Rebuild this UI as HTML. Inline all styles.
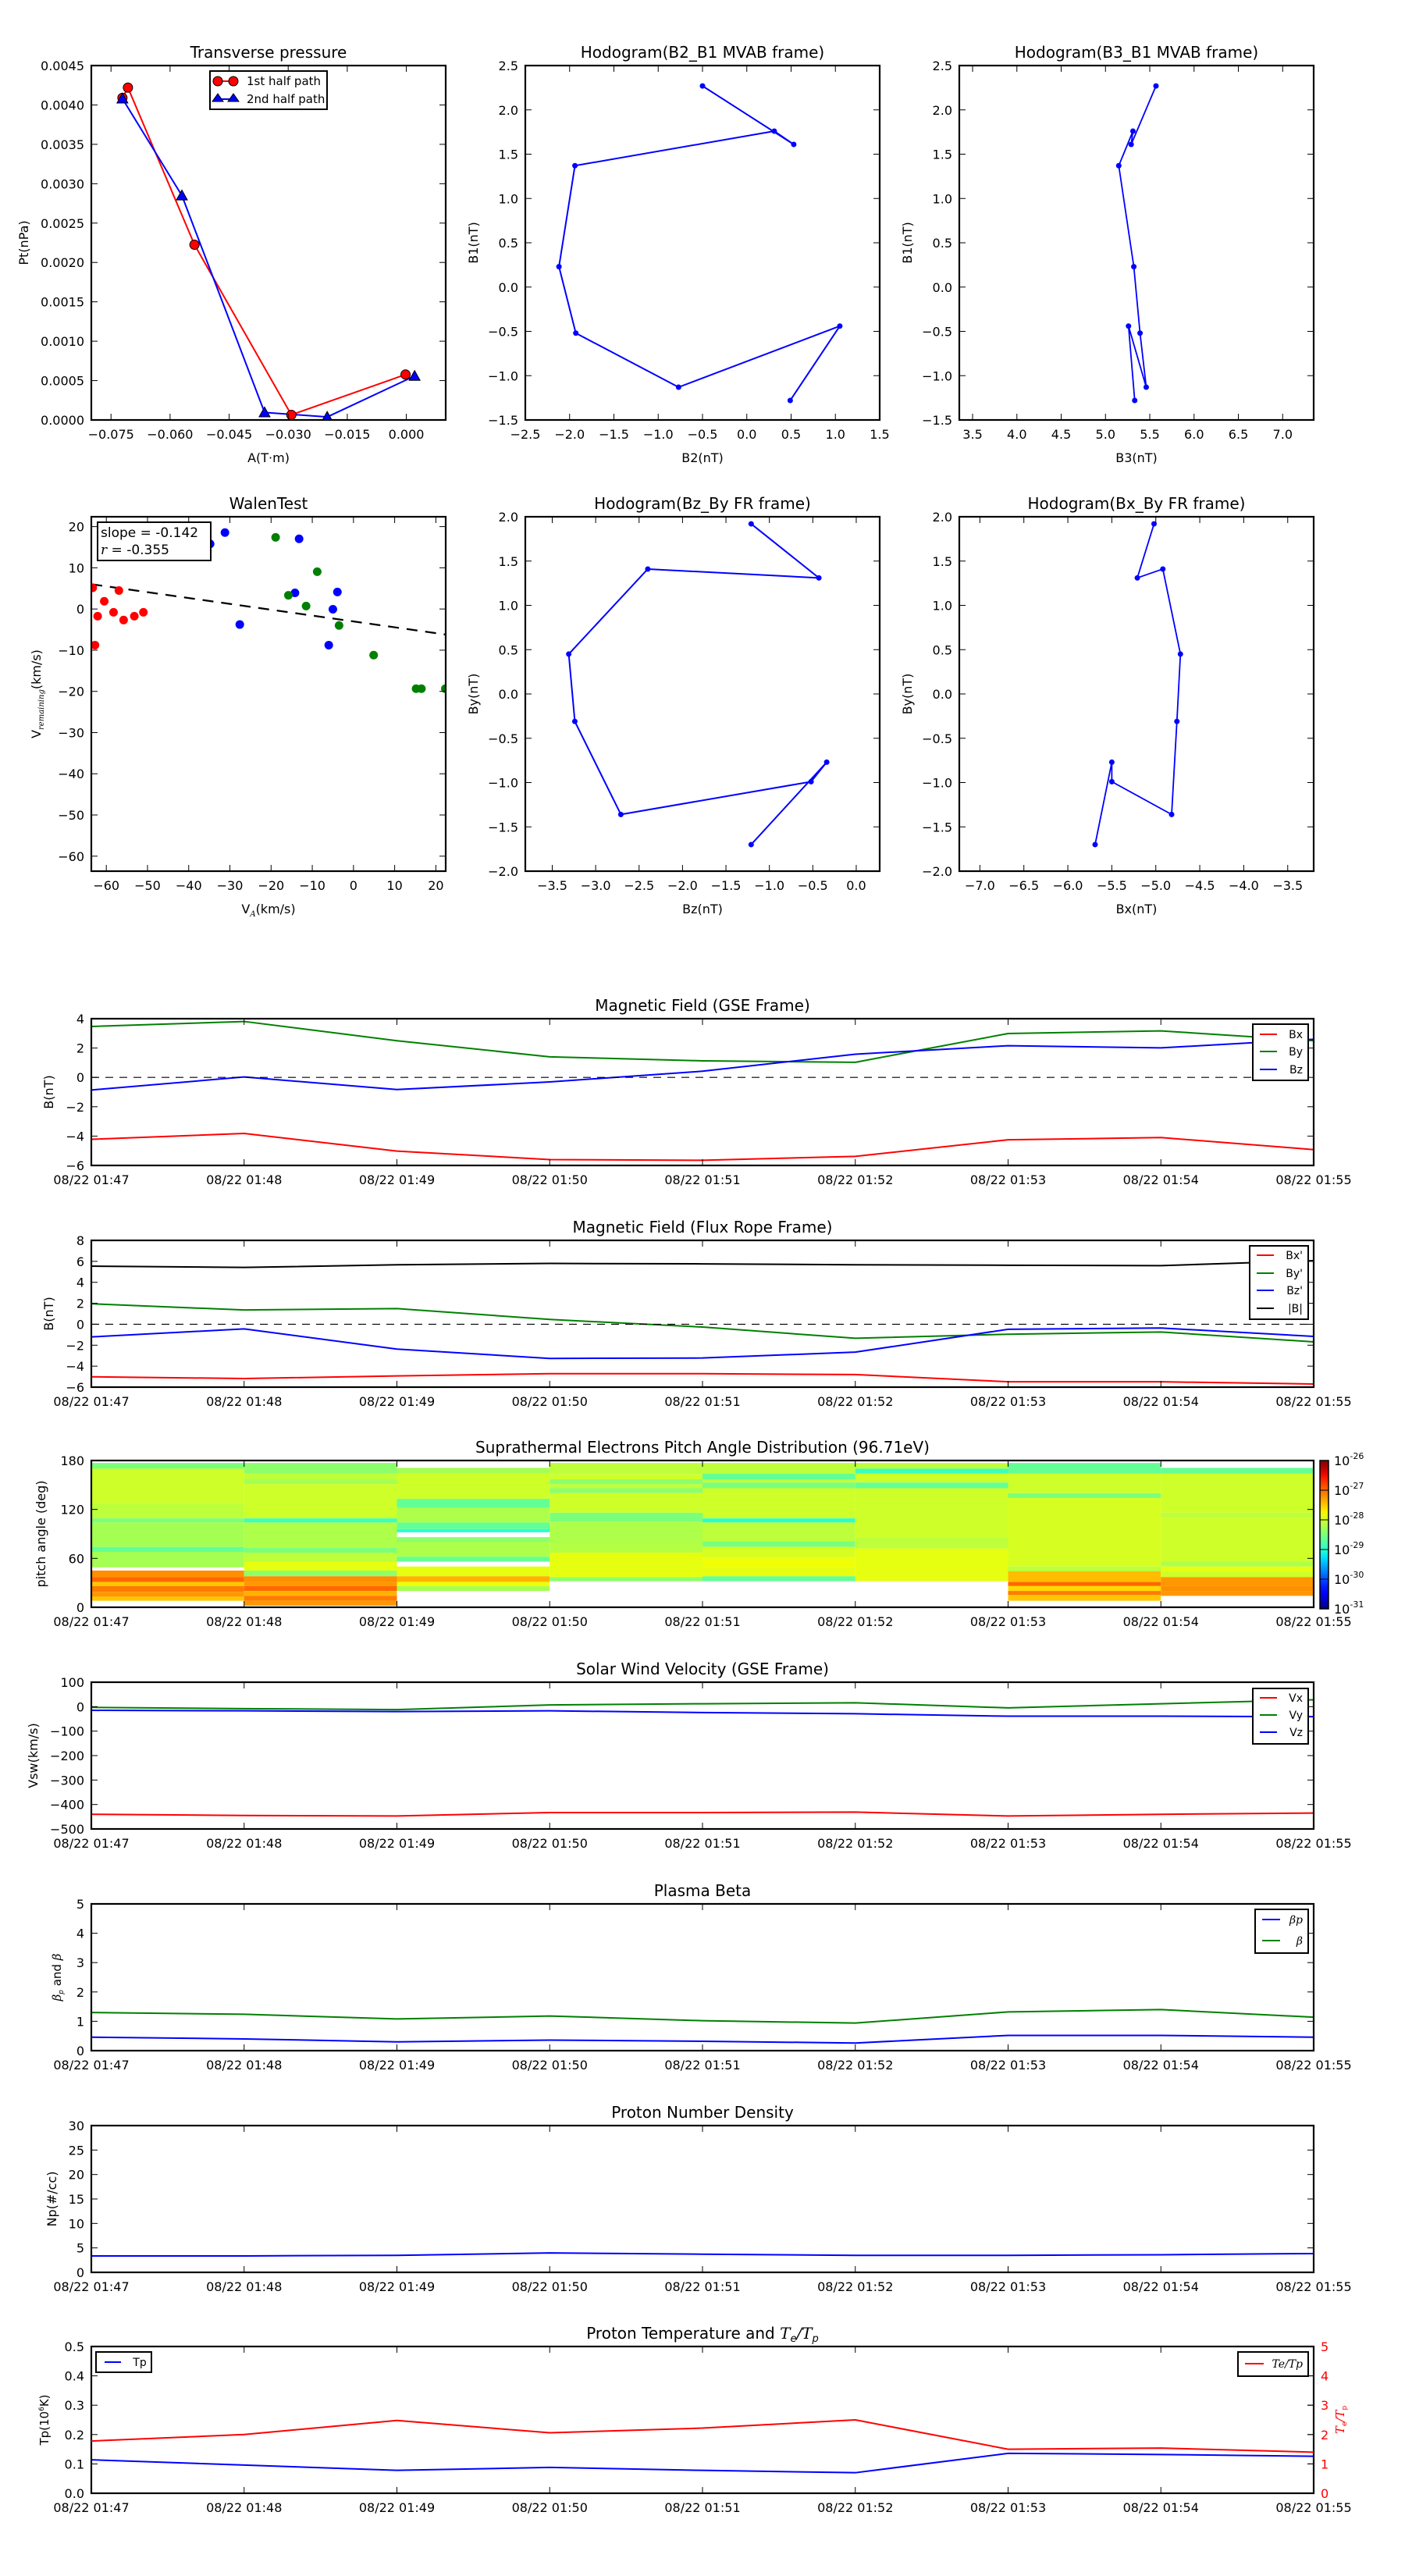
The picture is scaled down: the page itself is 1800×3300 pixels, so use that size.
<!DOCTYPE html>
<html><head><meta charset="utf-8"><title>Flux rope analysis</title>
<style>
html,body{margin:0;padding:0;background:#fff;}
svg{display:block;font-family:"DejaVu Sans","Liberation Sans",sans-serif;}
</style></head>
<body>
<svg id="chart" xmlns="http://www.w3.org/2000/svg" width="1800" height="3300" viewBox="0 0 1800 3300"></svg>
<script>
// ---------- data ----------
const ptRedA = [-0.0721, -0.0707, -0.0538, -0.0292, -0.0002];
const ptRedP = [0.00409, 0.00422, 0.002225, 0.000065, 0.000577];
const ptBlueA = [-0.0721, -0.0570, -0.0360, -0.0201, 0.0021];
const ptBlueP = [0.00408, 0.00285, 0.000095, 0.000038, 0.000558];

const hB2 = [-0.50, 0.53, 0.31, -1.94, -2.12, -1.93, -0.77, 1.05, 0.49];
const hB1 = [2.27, 1.61, 1.76, 1.37, 0.23, -0.52, -1.13, -0.44, -1.28];
const hB3 = [5.57, 5.29, 5.31, 5.15, 5.32, 5.39, 5.46, 5.26, 5.33];
const frBz = [-1.21, -0.43, -2.40, -3.31, -3.24, -2.71, -0.52, -0.34, -1.21];
const frBy = [1.92, 1.31, 1.41, 0.45, -0.31, -1.36, -0.99, -0.77, -1.70];
const frBx = [-5.02, -5.21, -4.92, -4.72, -4.76, -4.82, -5.50, -5.50, -5.69];

const walenRedX = [-63.3, -56.95, -60.5, -62.1, -58.25, -55.8, -53.2, -51.0, -62.75];
const walenRedY = [5.14, 4.49, 1.88, -1.74, -0.80, -2.68, -1.74, -0.80, -8.77];
const walenBlueX = [-31.2, -34.8, -27.6, -13.2, -14.2, -3.9, -5.0, -6.0];
const walenBlueY = [18.55, 15.8, -3.77, 17.03, 3.91, 4.13, -0.07, -8.77];
const walenGreenX = [-18.9, -8.8, -15.8, -11.5, -3.5, 4.9, 15.2, 16.5, 22.3];
const walenGreenY = [17.39, 9.06, 3.33, 0.72, -3.99, -11.2, -19.35, -19.35, -19.35];
const walenSlope = -0.142;
const walenIntercept = -3.02;

const timeLabels = ["08/22 01:47","08/22 01:48","08/22 01:49","08/22 01:50","08/22 01:51","08/22 01:52","08/22 01:53","08/22 01:54","08/22 01:55"];
const minutes = [0,1,2,3,4,5,6,7,8];

const gseBx = [-4.22, -3.82, -5.02, -5.60, -5.65, -5.38, -4.25, -4.10, -4.92];
const gseBy = [3.47, 3.81, 2.50, 1.40, 1.13, 1.03, 2.99, 3.17, 2.50];
const gseBz = [-0.86, 0.03, -0.83, -0.31, 0.42, 1.58, 2.16, 2.01, 2.60];

const frpBx = [-5.01, -5.18, -4.93, -4.72, -4.72, -4.80, -5.49, -5.49, -5.70];
const frpBy = [1.95, 1.36, 1.49, 0.46, -0.27, -1.34, -0.95, -0.74, -1.68];
const frpBz = [-1.21, -0.44, -2.37, -3.26, -3.22, -2.66, -0.48, -0.36, -1.16];
const frpBt = [5.54, 5.42, 5.67, 5.80, 5.76, 5.67, 5.63, 5.59, 6.06];

const swVx = [-440, -445, -447, -433, -433, -431, -447, -440, -435];
const swVy = [-3, -8, -12, 7, 12, 16, -5, 12, 28];
const swVz = [-15, -17, -20, -17, -24, -29, -39, -39, -41];

const betaP = [0.46, 0.40, 0.30, 0.36, 0.32, 0.26, 0.52, 0.52, 0.46];
const betaAll = [1.30, 1.24, 1.08, 1.18, 1.02, 0.94, 1.32, 1.40, 1.14];

const densNp = [3.36, 3.36, 3.48, 3.96, 3.72, 3.48, 3.48, 3.60, 3.84];

const tempTp = [0.114, 0.096, 0.078, 0.088, 0.078, 0.070, 0.136, 0.132, 0.126];
const tempRatio = [1.78, 2.00, 2.48, 2.06, 2.22, 2.50, 1.50, 1.54, 1.40];

// pitch-angle bands per minute column: [lowDeg, highDeg, log10 flux]
const pad0 = [[170,177,-28.5],[128,170,-28.0],[109,128,-28.1],[104,109,-28.5],[74,104,-28.25],[68,74,-28.65],[49,68,-28.25],[37,45,-27.2],[31,37,-27.0],[26,31,-27.5],[19,26,-27.1],[13,19,-27.25],[8,13,-27.5]];
const pad1 = [[164,177,-28.4],[157,164,-28.1],[151,157,-28.25],[109,151,-28.0],[104,109,-28.9],[73,104,-28.2],[67,73,-28.5],[56,67,-28.1],[45,56,-27.85],[38,45,-28.4],[31,38,-27.2],[26,31,-27.25],[20,26,-27.0],[14,20,-27.4],[8,14,-27.1],[2,8,-27.25]];
const pad2 = [[164,171,-28.25],[133,164,-28.0],[122,133,-28.65],[104,122,-28.2],[96,104,-28.65],[92,96,-29.0],[80,86,-28.4],[62,80,-28.2],[56,62,-28.65],[38,50,-27.85],[31,38,-27.4],[26,31,-27.8],[20,26,-28.25]];
const pad3 = [[163,177,-28.1],[157,163,-28.0],[151,157,-28.4],[146,151,-28.1],[140,146,-28.4],[116,140,-28.0],[105,116,-28.5],[79,105,-28.2],[67,79,-28.15],[37,67,-27.85],[32,37,-28.4]];
const pad4 = [[164,177,-28.1],[157,164,-28.65],[153,157,-28.1],[146,153,-28.5],[109,146,-28.0],[104,109,-29.0],[81,104,-28.1],[74,81,-28.5],[61,74,-27.95],[48,61,-27.8],[38,48,-27.85],[32,38,-28.65]];
const pad5 = [[170,177,-28.1],[164,170,-28.9],[153,164,-28.0],[146,153,-28.65],[86,146,-28.0],[72,86,-28.1],[32,72,-27.85]];
const pad6 = [[164,177,-28.65],[140,164,-28.0],[134,140,-28.5],[50,134,-27.95],[44,50,-28.1],[31,44,-27.45],[26,31,-27.0],[20,26,-27.6],[15,20,-27.1],[8,15,-27.5]];
const pad7 = [[164,171,-28.65],[116,164,-28.0],[110,116,-28.1],[56,110,-28.0],[50,56,-28.2],[44,50,-27.85],[37,44,-28.0],[26,37,-27.25],[20,26,-27.2],[14,20,-27.25]];
const padColumns = [pad0,pad1,pad2,pad3,pad4,pad5,pad6,pad7];
const cbarExps = [-26,-27,-28,-29,-30,-31];

// ---------- helpers ----------
const NS = "http://www.w3.org/2000/svg";
const svg = document.getElementById('chart');
function mk(tag, attrs, parent){
  const e = document.createElementNS(NS, tag);
  for (const k in attrs) e.setAttribute(k, attrs[k]);
  (parent || svg).appendChild(e);
  return e;
}
let clipN = 0;
function makeAxes(x0, y0, w, h, xr, yr){
  const id = 'clip' + (clipN++);
  const cp = mk('clipPath', {id: id});
  mk('rect', {x: x0, y: y0, width: w, height: h}, cp);
  const g = mk('g', {'clip-path': 'url(#' + id + ')'});
  return {x0, y0, w, h, xr, yr, g,
    sx: v => x0 + (v - xr[0]) / (xr[1] - xr[0]) * w,
    sy: v => y0 + h - (v - yr[0]) / (yr[1] - yr[0]) * h};
}
function fmt(v, d){ const s = v.toFixed(d); return s.replace('-', '\u2212'); }
function text(str, x, y, size, anchor, extra, name){
  const t = mk('text', Object.assign({x: x, y: y, 'font-size': size, 'text-anchor': anchor || 'middle', fill: '#000'}, extra || {}));
  t.textContent = str;
  
  
  return t;
}
function frame(ax, xt, xd, yt, yd, xlabFn){
  const L = 8;
  for (const v of xt){
    const x = ax.sx(v);
    const t1 = mk('line', {x1: x, x2: x, y1: ax.y0 + ax.h, y2: ax.y0 + ax.h - L, stroke: '#000', 'stroke-width': 1});
    
    
    mk('line', {x1: x, x2: x, y1: ax.y0, y2: ax.y0 + L, stroke: '#000', 'stroke-width': 1});
    text(xlabFn ? xlabFn(v) : fmt(v, xd), x, ax.y0 + ax.h + 24, 16, 'middle', null, 'x-tick-label');
  }
  for (const v of yt){
    const y = ax.sy(v);
    const t1 = mk('line', {x1: ax.x0, x2: ax.x0 + L, y1: y, y2: y, stroke: '#000', 'stroke-width': 1});
    
    
    mk('line', {x1: ax.x0 + ax.w, x2: ax.x0 + ax.w - L, y1: y, y2: y, stroke: '#000', 'stroke-width': 1});
    text(fmt(v, yd), ax.x0 - 9, y + 6, 16, 'end', null, 'y-tick-label');
  }
  const r = mk('rect', {x: ax.x0, y: ax.y0, width: ax.w, height: ax.h, fill: 'none', stroke: '#000', 'stroke-width': 2.2});
  
  
}
function range(a, b, s){ const r = []; for (let v = a; v <= b + 1e-9; v += s) r.push(Math.round(v * 1e6) / 1e6); return r; }
function polyline(ax, xs, ys, color, width, name, dash){
  const pts = xs.map((x, i) => ax.sx(x).toFixed(2) + ',' + ax.sy(ys[i]).toFixed(2)).join(' ');
  const attrs = {points: pts, fill: 'none', stroke: color, 'stroke-width': width || 1.8, 'stroke-linejoin': 'round'};
  if (dash) attrs['stroke-dasharray'] = dash;
  const p = mk('polyline', attrs, ax.g);
  
  
  return p;
}
function dots(ax, xs, ys, color, r, name, stroke){
  xs.forEach((x, i) => {
    const c = mk('circle', {cx: ax.sx(x), cy: ax.sy(ys[i]), r: r, fill: color, stroke: stroke || 'none', 'stroke-width': 1}, ax.g);
    
    
  });
}
function tris(ax, xs, ys, color, s, name){
  xs.forEach((x, i) => {
    const cx = ax.sx(x), cy = ax.sy(ys[i]);
    const p = mk('polygon', {points: cx + ',' + (cy - s) + ' ' + (cx - s) + ',' + (cy + s * 0.8) + ' ' + (cx + s) + ',' + (cy + s * 0.8), fill: color, stroke: '#000', 'stroke-width': 1}, ax.g);
    
    
  });
}
function ylabel(str, x, y, size, name, color){
  const t = text(str, x, y, size || 16, 'middle', {transform: 'rotate(-90 ' + x + ' ' + y + ')', fill: color || '#000'}, name);
  return t;
}
function legendBox(x, y, w, h){
  const r = mk('rect', {x: x, y: y, width: w, height: h, fill: '#fff', stroke: '#000', 'stroke-width': 2});
  
  
}
function legendEntry(x1, x2, y, color, label, tx, name, italic){
  const l = mk('line', {x1: x1, x2: x2, y1: y, y2: y, stroke: color, 'stroke-width': 2});
  
  
  text(label, tx, y + 5, 14, 'end', italic ? {'font-family': 'DejaVu Serif, serif', 'font-style': 'italic'} : null, name);
}

// ---------- Transverse pressure ----------
const axPt = makeAxes(117, 84, 454, 454, [-0.08, 0.01], [0, 0.0045]);
frame(axPt, range(-0.075, 0.0, 0.015), 3, range(0, 0.0045, 0.0005), 4);
polyline(axPt, ptRedA, ptRedP, '#f00', 2, 'first-half-path-line');
polyline(axPt, ptBlueA, ptBlueP, '#00f', 2, 'second-half-path-line');
dots(axPt, ptRedA, ptRedP, '#f00', 6, 'first-half-point', '#000');
tris(axPt, ptBlueA, ptBlueP, '#00f', 7, 'second-half-point');
text('Transverse pressure', 344, 74, 20, 'middle', null, 'pt-title');
text('A(T\u00b7m)', 344, 592, 16, 'middle', null, 'x-axis-title');
ylabel('Pt(nPa)', 36, 311, 16, 'y-axis-title');
legendBox(269, 91, 150, 49);
{ const l = mk('line', {x1: 279, x2: 299, y1: 104, y2: 104, stroke: '#f00', 'stroke-width': 2});  
  mk('circle', {cx: 279, cy: 104, r: 6, fill: '#f00', stroke: '#000'}); mk('circle', {cx: 299, cy: 104, r: 6, fill: '#f00', stroke: '#000'});
  const l2 = mk('line', {x1: 279, x2: 299, y1: 127, y2: 127, stroke: '#00f', 'stroke-width': 2});  
  mk('polygon', {points: '279,120 272,130 286,130', fill: '#00f', stroke: '#000'}); mk('polygon', {points: '299,120 292,130 306,130', fill: '#00f', stroke: '#000'});
  text('1st half path', 316, 109, 15, 'start', null, 'legend-first-half');
  text('2nd half path', 316, 132, 15, 'start', null, 'legend-second-half'); }

// ---------- Hodogram B2_B1 ----------
const axH1 = makeAxes(673, 84, 454, 454, [-2.5, 1.5], [-1.5, 2.5]);
frame(axH1, range(-2.5, 1.5, 0.5), 1, range(-1.5, 2.5, 0.5), 1);
polyline(axH1, hB2, hB1, '#00f', 2, 'hodogram-b2-b1-line');
dots(axH1, hB2, hB1, '#00f', 3.5, 'hodogram-b2-b1-point');
text('Hodogram(B2_B1 MVAB frame)', 900, 74, 20, 'middle', null, 'hodogram-b2-b1-title');
text('B2(nT)', 900, 592, 16, 'middle', null, 'x-axis-title');
ylabel('B1(nT)', 612, 311, 16, 'y-axis-title');

// ---------- Hodogram B3_B1 ----------
const axH2 = makeAxes(1229, 84, 454, 454, [3.35, 7.35], [-1.5, 2.5]);
frame(axH2, range(3.5, 7.0, 0.5), 1, range(-1.5, 2.5, 0.5), 1);
polyline(axH2, hB3, hB1, '#00f', 1.8, 'hodogram-b3-b1-line');
dots(axH2, hB3, hB1, '#00f', 3.5, 'hodogram-b3-b1-point');
text('Hodogram(B3_B1 MVAB frame)', 1456, 74, 20, 'middle', null, 'hodogram-b3-b1-title');
text('B3(nT)', 1456, 592, 16, 'middle', null, 'x-axis-title');
ylabel('B1(nT)', 1168, 311, 16, 'y-axis-title');

// ---------- Walen test ----------
const axW = makeAxes(117, 662, 454, 454, [-63.64, 22.39], [-63.64, 22.39]);
frame(axW, range(-60, 20, 10), 0, range(-60, 20, 10), 0);
{ const xa = [-63.64, 22.39]; const ya = xa.map(v => walenSlope * v + walenIntercept);
  polyline(axW, xa, ya, '#000', 2.2, 'walen-fit-line', '14,10'); }
dots(axW, walenRedX, walenRedY, '#f00', 5.5, 'walen-point-red');
dots(axW, walenBlueX, walenBlueY, '#00f', 5.5, 'walen-point-blue');
dots(axW, walenGreenX, walenGreenY, '#008000', 5.5, 'walen-point-green');
legendBox(125, 669, 145, 49);
text('slope = -0.142', 129, 688, 17, 'start', null, 'walen-slope-text');
{ const t = text('', 129, 710, 17, 'start', null, 'walen-r-text');
  t.innerHTML = '<tspan font-family="DejaVu Serif, serif" font-style="italic">r</tspan> = -0.355'; }
text('WalenTest', 344, 652, 20, 'middle', null, 'walen-title');
{ const t = text('', 344, 1170, 16, 'middle', null, 'x-axis-title'); t.innerHTML = 'V<tspan font-size="10" dy="4" font-style="italic" font-family="DejaVu Serif, serif">A</tspan><tspan dy="-4">(km/s)</tspan>'; }
{ const t = ylabel('', 52, 889, 16, 'y-axis-title'); t.innerHTML = 'V<tspan font-size="10" dy="4" font-style="italic" font-family="DejaVu Serif, serif">remaining</tspan><tspan dy="-4">(km/s)</tspan>'; }

// ---------- Hodogram Bz_By ----------
const axH3 = makeAxes(673, 662, 454, 454, [-3.81, 0.27], [-2, 2]);
frame(axH3, range(-3.5, 0.0, 0.5), 1, range(-2, 2, 0.5), 1);
polyline(axH3, frBz, frBy, '#00f', 2, 'hodogram-bz-by-line');
dots(axH3, frBz, frBy, '#00f', 3.5, 'hodogram-bz-by-point');
text('Hodogram(Bz_By FR frame)', 900, 652, 20, 'middle', null, 'hodogram-bz-by-title');
text('Bz(nT)', 900, 1170, 16, 'middle', null, 'x-axis-title');
ylabel('By(nT)', 612, 889, 16, 'y-axis-title');

// ---------- Hodogram Bx_By ----------
const axH4 = makeAxes(1229, 662, 454, 454, [-7.234, -3.205], [-2, 2]);
frame(axH4, range(-7.0, -3.5, 0.5), 1, range(-2, 2, 0.5), 1);
polyline(axH4, frBx, frBy, '#00f', 1.8, 'hodogram-bx-by-line');
dots(axH4, frBx, frBy, '#00f', 3.5, 'hodogram-bx-by-point');
text('Hodogram(Bx_By FR frame)', 1456, 652, 20, 'middle', null, 'hodogram-bx-by-title');
text('Bx(nT)', 1456, 1170, 16, 'middle', null, 'x-axis-title');
ylabel('By(nT)', 1168, 889, 16, 'y-axis-title');

// ---------- time panels ----------
const TX0 = 117, TW = 1566, TH = 188;
const tLab = v => timeLabels[v];
function timeAxes(y0, yr, yt, yd){
  const ax = makeAxes(TX0, y0, TW, TH, [0, 8], yr);
  frame(ax, minutes, 0, yt, yd, tLab);
  return ax;
}
function zeroLine(ax){
  const l = mk('line', {x1: ax.x0, x2: ax.x0 + ax.w, y1: ax.sy(0), y2: ax.sy(0), stroke: '#000', 'stroke-width': 1.2, 'stroke-dasharray': '10,8'});
  
  
}

// GSE B
const axG = timeAxes(1305, [-6, 4], range(-6, 4, 2), 0);
zeroLine(axG);
polyline(axG, minutes, gseBx, '#f00', 2, 'gse-bx-line');
polyline(axG, minutes, gseBy, '#008000', 2, 'gse-by-line');
polyline(axG, minutes, gseBz, '#00f', 2, 'gse-bz-line');
text('Magnetic Field (GSE Frame)', 900, 1295, 20, 'middle', null, 'gse-b-title');
ylabel('B(nT)', 68, 1399, 16, 'y-axis-title');
legendBox(1605, 1312, 71, 72);
legendEntry(1614, 1636, 1325, '#f00', 'Bx', 1669, 'legend-bx');
legendEntry(1614, 1636, 1347, '#008000', 'By', 1669, 'legend-by');
legendEntry(1614, 1636, 1370, '#00f', 'Bz', 1669, 'legend-bz');

// FR B
const axF = timeAxes(1589, [-6, 8], range(-6, 8, 2), 0);
zeroLine(axF);
polyline(axF, minutes, frpBt, '#000', 2, 'fr-bmag-line');
polyline(axF, minutes, frpBy, '#008000', 2, 'fr-by-line');
polyline(axF, minutes, frpBz, '#00f', 2, 'fr-bz-line');
polyline(axF, minutes, frpBx, '#f00', 2, 'fr-bx-line');
text('Magnetic Field (Flux Rope Frame)', 900, 1579, 20, 'middle', null, 'fr-b-title');
ylabel('B(nT)', 68, 1683, 16, 'y-axis-title');
legendBox(1601, 1596, 75, 94);
legendEntry(1610, 1632, 1608, '#f00', "Bx'", 1669, 'legend-bx-prime');
legendEntry(1610, 1632, 1631, '#008000', "By'", 1669, 'legend-by-prime');
legendEntry(1610, 1632, 1653, '#00f', "Bz'", 1669, 'legend-bz-prime');
legendEntry(1610, 1632, 1676, '#000', '|B|', 1669, 'legend-bmag');

// PAD heatmap
function jetC(t){
  function interp(pts){ for (let i = 1; i < pts.length; i++){ if (t <= pts[i][0]){ const a = pts[i-1], b = pts[i]; return a[1] + (b[1]-a[1]) * (t-a[0]) / (b[0]-a[0]); } } return pts[pts.length-1][1]; }
  t = Math.max(0, Math.min(1, t));
  const r = interp([[0,0],[0.35,0],[0.66,1],[0.89,1],[1,0.5]]);
  const g = interp([[0,0],[0.125,0],[0.375,1],[0.64,1],[0.91,0],[1,0]]);
  const b = interp([[0,0.5],[0.11,1],[0.34,1],[0.65,0],[1,0]]);
  return 'rgb(' + Math.round(r*255) + ',' + Math.round(g*255) + ',' + Math.round(b*255) + ')';
}
const axP = makeAxes(TX0, 1871, TW, TH, [0, 8], [0, 180]);
padColumns.forEach((col, ci) => {
  col.forEach(b => {
    const x1 = axP.sx(ci), x2 = axP.sx(ci + 1);
    const r = mk('rect', {x: x1, y: axP.sy(b[1]), width: x2 - x1, height: axP.sy(b[0]) - axP.sy(b[1]), fill: jetC((b[2] + 31) / 5)}, axP.g);
    
    
  });
});
frame(axP, minutes, 0, [0, 60, 120, 180], 0, tLab);
text('Suprathermal Electrons Pitch Angle Distribution (96.71eV)', 900, 1861, 20, 'middle', null, 'pad-title');
ylabel('pitch angle (deg)', 58, 1965, 16, 'y-axis-title');
{ const gr = mk('linearGradient', {id: 'jetgrad', x1: 0, y1: 1, x2: 0, y2: 0});
  for (let i = 0; i <= 20; i++) mk('stop', {offset: (i / 20), 'stop-color': jetC(i / 20)}, gr);
  const cb = mk('rect', {x: 1691, y: 1871, width: 11, height: 190, fill: 'url(#jetgrad)', stroke: '#000', 'stroke-width': 1.5});
  
  
  cbarExps.forEach((e, i) => {
    const y = 1871 + i * 190 / 5;
    mk('line', {x1: 1691, x2: 1702, y1: y, y2: y, stroke: '#000', 'stroke-width': 1});
    const t = text('', 1709, y + 6, 16, 'start', null, 'colorbar-tick-label');
    t.innerHTML = '10<tspan font-size="11" dy="-8">' + e + '</tspan>';
  }); }

// Solar wind
const axS = timeAxes(2155, [-500, 100], range(-500, 100, 100), 0);
polyline(axS, minutes, swVx, '#f00', 2, 'sw-vx-line');
polyline(axS, minutes, swVy, '#008000', 2, 'sw-vy-line');
polyline(axS, minutes, swVz, '#00f', 2, 'sw-vz-line');
text('Solar Wind Velocity (GSE Frame)', 900, 2145, 20, 'middle', null, 'sw-title');
ylabel('Vsw(km/s)', 48, 2249, 16, 'y-axis-title');
legendBox(1605, 2163, 71, 71);
legendEntry(1614, 1636, 2175, '#f00', 'Vx', 1669, 'legend-vx');
legendEntry(1614, 1636, 2197, '#008000', 'Vy', 1669, 'legend-vy');
legendEntry(1614, 1636, 2219, '#00f', 'Vz', 1669, 'legend-vz');

// Plasma beta
const axB = timeAxes(2439, [0, 5], range(0, 5, 1), 0);
polyline(axB, minutes, betaAll, '#008000', 2, 'beta-line');
polyline(axB, minutes, betaP, '#00f', 2, 'beta-p-line');
text('Plasma Beta', 900, 2429, 20, 'middle', null, 'beta-title');
{ const t = ylabel('', 78, 2533, 15, 'y-axis-title'); t.innerHTML = '<tspan font-style="italic" font-family="DejaVu Serif, serif">\u03b2</tspan><tspan font-size="9" dy="3" font-style="italic">p</tspan><tspan dy="-3"> and </tspan><tspan font-style="italic" font-family="DejaVu Serif, serif">\u03b2</tspan>'; }
legendBox(1608, 2446, 68, 56);
legendEntry(1617, 1640, 2459, '#00f', '\u03b2p', 1669, 'legend-beta-p', true);
legendEntry(1617, 1640, 2486, '#008000', '\u03b2', 1669, 'legend-beta', true);

// Density
const axN = timeAxes(2723, [0, 30], range(0, 30, 5), 0);
polyline(axN, minutes, densNp, '#00f', 2, 'np-line');
text('Proton Number Density', 900, 2713, 20, 'middle', null, 'np-title');
ylabel('Np(#/cc)', 72, 2817, 16, 'y-axis-title');

// Temperature
const axT = timeAxes(3006, [0, 0.5], range(0, 0.5, 0.1), 1);
const axT2 = makeAxes(TX0, 3006, TW, TH, [0, 8], [0, 5]);
polyline(axT2, minutes, tempRatio, '#f00', 2, 'te-tp-ratio-line');
polyline(axT, minutes, tempTp, '#00f', 2, 'tp-line');
range(0, 5, 1).forEach(v => {
  const y = axT2.sy(v);
  mk('line', {x1: 1683, x2: 1675, y1: y, y2: y, stroke: '#000', 'stroke-width': 1});
  text(String(v), 1692, y + 6, 16, 'start', {fill: '#f00'}, 'right-y-tick-label');
});
{ const t = text('', 900, 2996, 20, 'middle', null, 'temp-title'); t.innerHTML = 'Proton Temperature and <tspan font-family="DejaVu Serif, serif" font-style="italic">T</tspan><tspan font-size="13" dy="4" font-style="italic">e</tspan><tspan dy="-4" font-family="DejaVu Serif, serif" font-style="italic">/T</tspan><tspan font-size="13" dy="4" font-style="italic">p</tspan>'; }
{ const t = ylabel('', 62, 3100, 15, 'y-axis-title'); t.innerHTML = 'Tp(10<tspan font-size="9" dy="-6">6</tspan><tspan dy="6">K)</tspan>'; }
{ const t = ylabel('', 1722, 3100, 15, 'right-y-axis-title', '#f00'); t.innerHTML = '<tspan font-style="italic" font-family="DejaVu Serif, serif">T</tspan><tspan font-size="9" dy="3">e</tspan><tspan dy="-3" font-style="italic" font-family="DejaVu Serif, serif">/T</tspan><tspan font-size="9" dy="3">p</tspan>'; }
legendBox(123, 3013, 71, 26);
{ const l = mk('line', {x1: 134, x2: 155, y1: 3026, y2: 3026, stroke: '#00f', 'stroke-width': 2});  
  text('Tp', 179, 3031, 14, 'middle', null, 'legend-tp'); }
legendBox(1586, 3013, 90, 31);
legendEntry(1595, 1619, 3028, '#f00', 'Te/Tp', 1669, 'legend-te-tp', true);
</script>
</body></html>
